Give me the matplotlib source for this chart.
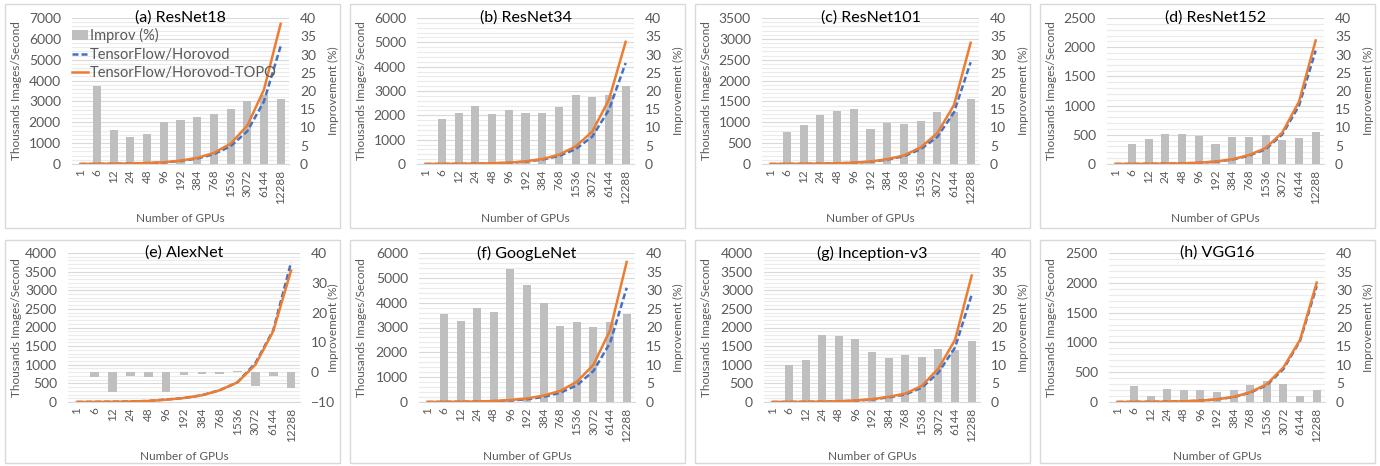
import matplotlib
matplotlib.use('Agg')
from matplotlib import pyplot as plt
from matplotlib.ticker import MultipleLocator, AutoMinorLocator
from matplotlib.patches import Rectangle

plt.rcParams['font.family'] = ['Lato', 'DejaVu Sans']

# x categories (number of GPUs)
gpus = ['1', '6', '12', '24', '48', '96', '192', '384', '768', '1536', '3072', '6144', '12288']

titles = ['(a) ResNet18', '(b) ResNet34', '(c) ResNet101', '(d) ResNet152',
          '(e) AlexNet', '(f) GoogLeNet', '(g) Inception-v3', '(h) VGG16']

# thousands images/second
resnet18_hvd  = [1.1, 5.4, 11, 21, 41, 76, 142, 262, 470, 850, 1570, 3000, 5650]
resnet18_topo = [1.1, 6.5, 12, 23, 45, 85, 160, 295, 530, 975, 1840, 3560, 6720]
resnet34_hvd  = [0.7, 3.5, 7, 13, 26, 50, 96, 180, 330, 605, 1125, 2230, 4150]
resnet34_topo = [0.7, 4, 8, 15, 30, 57, 110, 205, 380, 720, 1330, 2650, 5020]
resnet101_hvd  = [0.4, 2.1, 4, 8, 15, 28, 55, 103, 186, 355, 646, 1237, 2440]
resnet101_topo = [0.4, 2.3, 4.5, 9, 17, 32, 60, 115, 206, 397, 738, 1413, 2905]
resnet152_hvd  = [0.25, 1.4, 2.8, 5.5, 10.5, 20, 40, 75, 143, 252, 506, 995, 1942]
resnet152_topo = [0.25, 1.5, 3, 6, 11, 22, 42, 80, 153, 272, 539, 1066, 2115]
alexnet_hvd  = [0.6, 3.6, 7.5, 14, 27, 67, 108, 181, 316, 528, 1045, 1925, 3750]
alexnet_topo = [0.6, 3.5, 7, 13.8, 26.5, 63, 107, 180, 315, 530, 1000, 1900, 3530]
googlenet_hvd  = [0.9, 4.5, 9, 17, 32, 60, 110, 205, 372, 670, 1250, 2380, 4600]
googlenet_topo = [0.9, 5.5, 11, 21, 40, 80, 145, 260, 447, 813, 1500, 2890, 5640]
inception_hvd  = [0.4, 2.2, 4.5, 8.5, 17, 34, 66, 125, 201, 386, 790, 1465, 2880]
inception_topo = [0.4, 2.5, 5, 10, 20, 40, 75, 140, 226, 433, 903, 1670, 3395]
vgg16_hvd  = [0.25, 1.5, 3, 5.8, 11.5, 22, 44, 82, 157, 283, 554, 1028, 1943]
vgg16_topo = [0.25, 1.5, 3, 6, 12, 23, 45, 85, 164, 299, 581, 1044, 2003]

# improvement (%)
resnet18_imp  = [0, 21.5, 9.4, 7.3, 8.2, 11.5, 12.1, 12.8, 13.8, 15.2, 17.2, 18.8, 17.9]
resnet34_imp  = [0, 12.3, 13.9, 15.9, 13.7, 14.8, 14.1, 14.1, 15.7, 18.9, 18.3, 18.9, 21.5]
resnet101_imp = [0, 8.9, 10.7, 13.4, 14.6, 15.1, 9.5, 11.3, 10.9, 11.9, 14.2, 14.2, 17.8]
resnet152_imp = [0, 5.4, 6.8, 8.1, 8.3, 7.7, 5.5, 7.3, 7.3, 8.0, 6.6, 7.1, 8.9]
alexnet_imp   = [0, -1.6, -6.8, -1.2, -1.7, -6.6, -0.8, -0.7, -0.5, 0.3, -4.5, -1.4, -5.4]
googlenet_imp = [0, 23.7, 21.7, 25.3, 24.1, 35.6, 31.4, 26.6, 20.3, 21.5, 20.1, 21.5, 23.5]
inception_imp = [0, 9.9, 11.3, 18.1, 17.6, 16.9, 13.4, 11.7, 12.5, 12.2, 14.3, 14.0, 16.5]
vgg16_imp     = [0, 4.2, 1.6, 3.4, 3.2, 3.3, 2.6, 3.3, 4.5, 5.6, 4.8, 1.5, 3.1]

hvd_all  = [resnet18_hvd, resnet34_hvd, resnet101_hvd, resnet152_hvd,
            alexnet_hvd, googlenet_hvd, inception_hvd, vgg16_hvd]
topo_all = [resnet18_topo, resnet34_topo, resnet101_topo, resnet152_topo,
            alexnet_topo, googlenet_topo, inception_topo, vgg16_topo]
imp_all  = [resnet18_imp, resnet34_imp, resnet101_imp, resnet152_imp,
            alexnet_imp, googlenet_imp, inception_imp, vgg16_imp]

left_max  = [7000, 6000, 3500, 2500, 4000, 6000, 4000, 2500]
left_step = [1000, 1000, 500, 500, 500, 1000, 500, 500]

txt = '#595959'
bar_col = '#BFBFBF'
blue = '#4472C4'
orange = '#ED7D31'

W, H = 1380, 466
fig = plt.figure(figsize=(W / 100, H / 100), dpi=100)

for i in range(8):
    row, col = divmod(i, 4)
    x0 = col * 345
    if row == 0:
        top, bot, lpx, wpx = 18, 164, 72, 217
    elif col == 0:
        top, bot, lpx, wpx = 253, 402, 68, 232
    else:
        top, bot, lpx, wpx = 253, 402, 74, 216
    # panel border
    btop, bbot = (4, 228) if row == 0 else (240, 463)
    fig.patches.append(Rectangle(((x0 + 5) / W, 1 - bbot / H), 335 / W, (bbot - btop) / H,
                                 transform=fig.transFigure, fill=False,
                                 edgecolor='#D9D9D9', lw=1))

    rect = [(x0 + lpx) / W, 1 - bot / H, wpx / W, (bot - top) / H]
    ax = fig.add_axes(rect)          # left scale, gridlines
    axr = ax.twinx()                 # right scale, bars
    axl = ax.twinx()                 # left scale, lines on top

    x = range(len(gpus))
    bars = axr.bar(x, imp_all[i], width=0.48, color=bar_col, label='Improv (%)')
    l1, = axl.plot(x, hvd_all[i], color=blue, lw=1.8, ls='--', dashes=(2.4, 1.2),
                   label='TensorFlow/Horovod')
    l2, = axl.plot(x, topo_all[i], color=orange, lw=1.8, label='TensorFlow/Horovod-TOPO')

    for a in (ax, axr, axl):
        a.set_xlim(-0.5, len(gpus) - 0.5)
        for s in a.spines.values():
            s.set_visible(False)
    ax.spines['bottom'].set_visible(True)
    ax.spines['bottom'].set_color('#D9D9D9')

    ax.set_ylim(0, left_max[i])
    axl.set_ylim(0, left_max[i])
    ax.yaxis.set_major_locator(MultipleLocator(left_step[i]))
    ax.yaxis.set_minor_locator(AutoMinorLocator(5))
    ax.grid(which='major', axis='y', color='#D9D9D9', lw=0.8)
    ax.grid(which='minor', axis='y', color='#EBEBEB', lw=0.8)
    ax.set_axisbelow(True)
    axl.set_yticks([])

    if i == 4:
        axr.set_ylim(-10, 40)
        axr.yaxis.set_major_locator(MultipleLocator(10))
    else:
        axr.set_ylim(0, 40)
        axr.yaxis.set_major_locator(MultipleLocator(5))

    ax.set_xticks(list(x))
    ax.set_xticklabels(gpus, rotation=90)
    ax.tick_params(axis='x', length=0, pad=4, labelsize=8.5, colors=txt)
    ax.tick_params(axis='y', which='both', length=0, pad=8, labelsize=10, colors=txt)
    axr.tick_params(axis='y', length=0, pad=8, labelsize=10, colors=txt)

    ax.set_ylabel('Thousands Images/Second', fontsize=8.5, color=txt)
    ax.yaxis.set_label_coords((22 - lpx) / wpx, 0.5)
    axr.set_ylabel('Improvement (%)', fontsize=8.5, color=txt)
    axr.yaxis.set_label_coords((328 - lpx) / wpx, 0.5)
    ax.set_xlabel('Number of GPUs', fontsize=8.5, color=txt)
    ax.xaxis.set_label_coords(0.5, (bot - 213 - (0 if row == 0 else 238)) / (bot - top))

    axl.text(0.5, 1.0, titles[i], transform=axl.transAxes, ha='center', va='center',
             fontsize=11.5, color='black')

    if i == 0:
        axl.legend([bars, l1, l2], [bars.get_label(), l1.get_label(), l2.get_label()],
                   loc='upper left', bbox_to_anchor=(0, 0.93), frameon=False,
                   fontsize=10.5, handlelength=1.1, handletextpad=0.1,
                   labelspacing=0.3, borderpad=0, borderaxespad=0, labelcolor=txt)

fig.savefig('out.png', dpi=100)
